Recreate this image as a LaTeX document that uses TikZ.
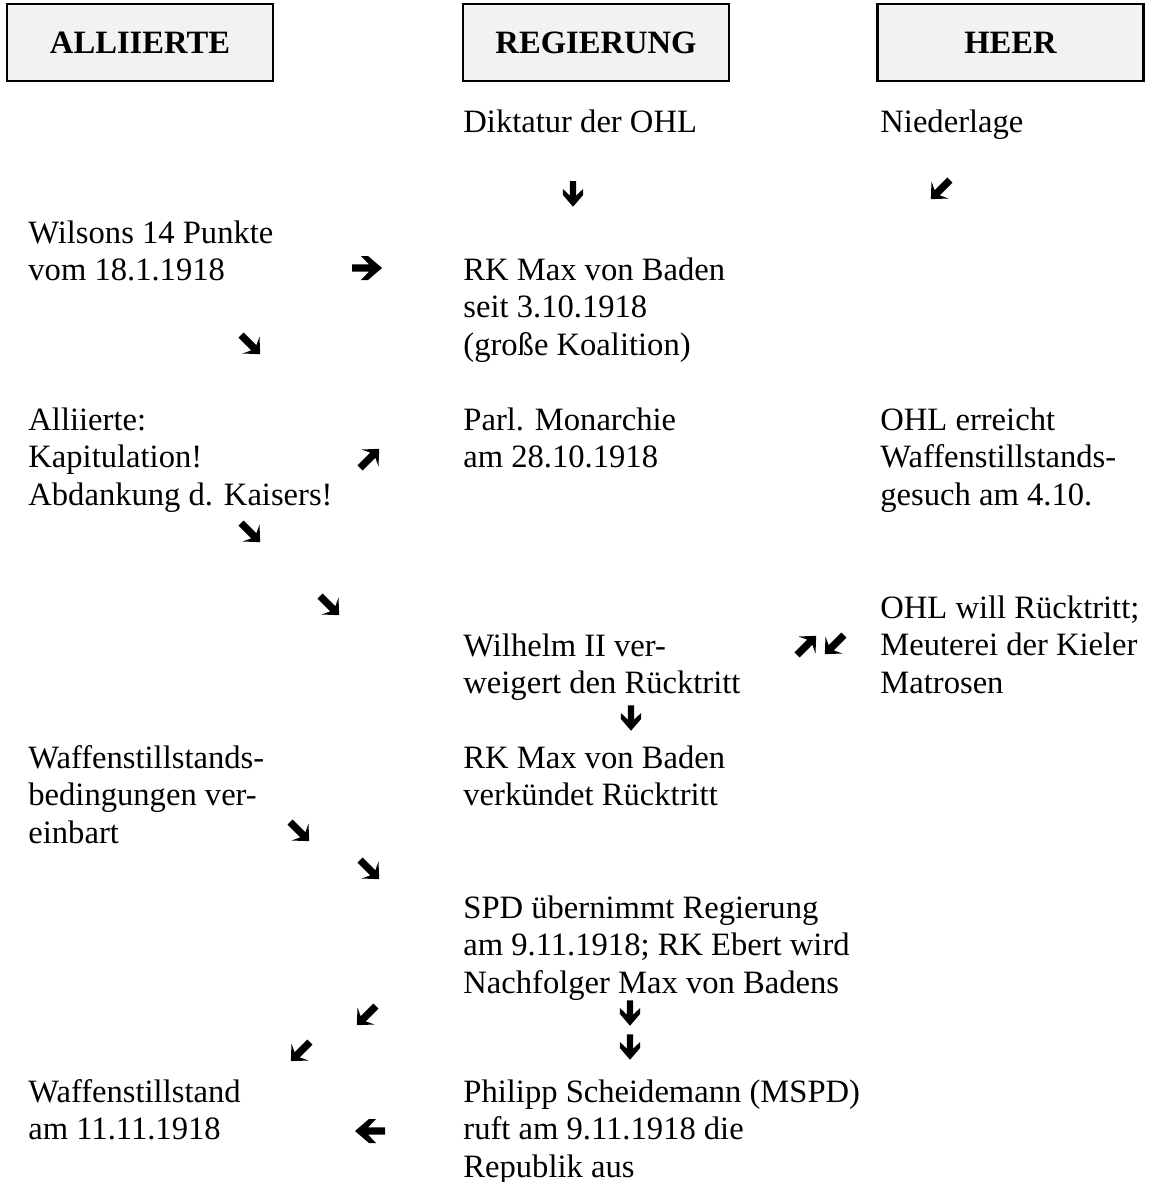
\documentclass[tikz,border=0pt]{standalone}
\usepackage{fontspec}
\setmainfont{Liberation Serif}
\newcommand\blk[1]{\begin{tabular}[t]{@{}l@{}}#1\end{tabular}}
\definecolor{boxgray}{HTML}{F2F2F2}
\tikzset{
  hbox/.style={draw=black, line width=1.2pt, fill=boxgray, minimum width=133pt, minimum height=38.5pt, inner sep=0pt, font=\fontsize{16.3}{18.75}\selectfont\bfseries, text depth=0pt},
  txt/.style={anchor=base west, inner sep=0pt, font=\fontsize{16.3}{18.75}\selectfont},
  warrow/.pic={\fill[black] (-15,-3.6) -- (2,-3.6) -- (-6,-12) -- (1,-12) -- (15,0) -- (1,12) -- (-6,12) -- (2,3.6) -- (-15,3.6) -- cycle;},
  wdiag/.pic={\fill[black] (-14,-3.6) -- (4,-3.6) -- (0,-12) -- (13,0) -- (0,12) -- (4,3.6) -- (-14,3.6) -- cycle;}
}
\begin{document}
\begin{tikzpicture}[x=0.5pt,y=-0.5pt]
\path[use as bounding box] (0,0) rectangle (1149,1182);
% headers
\node[hbox] (h1) at (140,42.5) {ALLIIERTE};
\node[hbox] (h2) at (596,42.5) {REGIERUNG};
\node[hbox] (h3) at (1010.5,42.5) {HEER};
% left column
\node[txt] (l1) at (28,243) {\blk{Wilsons 14 Punkte\\vom 18.1.1918}};
\node[txt] (l2) at (28,430) {\blk{Alliierte:\\Kapitulation!\\Abdankung d. Kaisers!}};
\node[txt] (l3) at (28,768) {\blk{Waffenstillstands-\\bedingungen ver-\\einbart}};
\node[txt] (l4) at (28,1102) {\blk{Waffenstillstand\\am 11.11.1918}};
% middle column
\node[txt] (m1) at (463,133) {Diktatur der OHL};
\node[txt] (m2) at (463,280) {\blk{RK Max von Baden\\seit 3.10.1918\\(große Koalition)}};
\node[txt] (m3) at (463,430) {\blk{Parl. Monarchie\\am 28.10.1918}};
\node[txt] (m4) at (463,656) {\blk{Wilhelm II ver-\\weigert den Rücktritt}};
\node[txt] (m5) at (463,768) {\blk{RK Max von Baden\\verkündet Rücktritt}};
\node[txt] (m6) at (463,918) {\blk{SPD übernimmt Regierung\\am 9.11.1918; RK Ebert wird\\Nachfolger Max von Badens}};
\node[txt] (m7) at (463,1102) {\blk{Philipp Scheidemann (MSPD)\\ruft am 9.11.1918 die\\Republik aus}};
% right column
\node[txt] (r1) at (880,133) {Niederlage};
\node[txt] (r2) at (880,430) {\blk{OHL erreicht\\Waffenstillstands-\\gesuch am 4.10.}};
\node[txt] (r3) at (880,618) {\blk{OHL will Rücktritt;\\Meuterei der Kieler\\Matrosen}};
% arrows
\pic[rotate=-90,scale=0.85] (a1) at (573,194) {warrow};
\pic[rotate=225] (a2) at (940,190) {wdiag};
\pic (a3) at (367,268) {warrow};
\pic[rotate=-45] (a4) at (251,345) {wdiag};
\pic[rotate=45] (a5) at (370,458) {wdiag};
\pic[rotate=-45] (a6) at (251,533) {wdiag};
\pic[rotate=-45] (a7) at (330,606) {wdiag};
\pic[rotate=45] (a8) at (807,645) {wdiag};
\pic[rotate=225] (a9) at (834,645) {wdiag};
\pic[rotate=-90,scale=0.85] (a10) at (631,718) {warrow};
\pic[rotate=-45] (a11) at (300,832) {wdiag};
\pic[rotate=-45] (a12) at (370,870) {wdiag};
\pic[rotate=225] (a13) at (366,1016) {wdiag};
\pic[rotate=-90,scale=0.85] (a14) at (630,1013) {warrow};
\pic[rotate=225] (a15) at (300,1052) {wdiag};
\pic[rotate=-90,scale=0.85] (a16) at (630,1047) {warrow};
\pic[rotate=180] (a17) at (370,1131) {warrow};
\end{tikzpicture}
\end{document}
